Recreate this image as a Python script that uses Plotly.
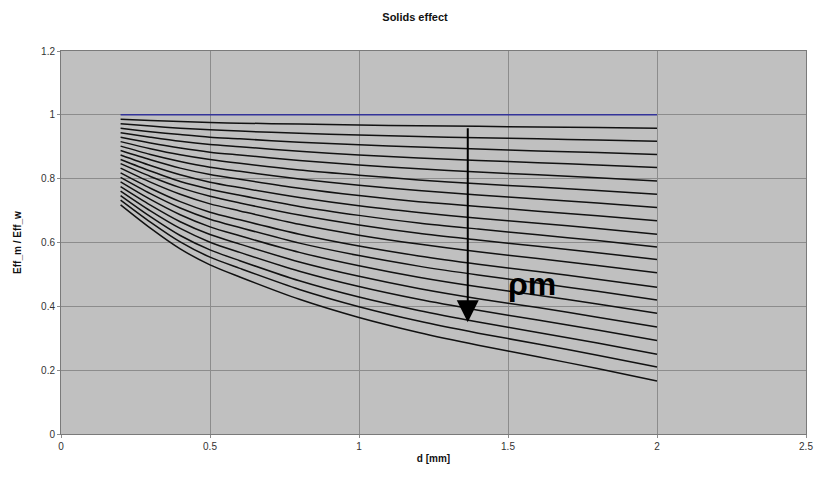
import plotly.graph_objects as go

# particle diameter d [mm] at which each efficiency ratio was evaluated
d_mm = [0.2, 0.3, 0.4, 0.5, 0.6, 0.8, 1.0, 1.2, 1.4, 1.6, 1.8, 2.0]

# clean-water reference (ratio = 1)
water_ratio = [1.0] * len(d_mm)

# Eff_m / Eff_w for increasing mixture density (top to bottom)
ratio_by_density = [
    [0.986, 0.982, 0.979, 0.976, 0.974, 0.971, 0.968, 0.966, 0.964, 0.962, 0.960, 0.958],
    [0.972, 0.965, 0.958, 0.953, 0.949, 0.942, 0.937, 0.932, 0.928, 0.925, 0.921, 0.917],
    [0.958, 0.947, 0.938, 0.930, 0.925, 0.914, 0.906, 0.899, 0.893, 0.887, 0.882, 0.876],
    [0.944, 0.930, 0.917, 0.907, 0.900, 0.886, 0.874, 0.865, 0.857, 0.850, 0.843, 0.835],
    [0.930, 0.912, 0.896, 0.883, 0.874, 0.857, 0.843, 0.831, 0.821, 0.812, 0.803, 0.793],
    [0.916, 0.894, 0.875, 0.860, 0.848, 0.827, 0.811, 0.796, 0.784, 0.774, 0.763, 0.751],
    [0.902, 0.876, 0.854, 0.836, 0.823, 0.799, 0.779, 0.763, 0.749, 0.736, 0.724, 0.710],
    [0.888, 0.859, 0.833, 0.813, 0.798, 0.770, 0.747, 0.728, 0.713, 0.698, 0.684, 0.668],
    [0.874, 0.841, 0.812, 0.789, 0.772, 0.741, 0.715, 0.694, 0.676, 0.660, 0.644, 0.626],
    [0.860, 0.824, 0.791, 0.767, 0.748, 0.713, 0.685, 0.661, 0.642, 0.624, 0.606, 0.586],
    [0.847, 0.807, 0.772, 0.745, 0.724, 0.686, 0.655, 0.629, 0.608, 0.588, 0.568, 0.547],
    [0.833, 0.789, 0.751, 0.721, 0.699, 0.657, 0.623, 0.595, 0.571, 0.550, 0.528, 0.505],
    [0.818, 0.770, 0.728, 0.695, 0.671, 0.626, 0.589, 0.558, 0.532, 0.509, 0.485, 0.460],
    [0.804, 0.753, 0.708, 0.673, 0.647, 0.598, 0.559, 0.526, 0.498, 0.473, 0.447, 0.420],
    [0.790, 0.735, 0.687, 0.649, 0.621, 0.569, 0.527, 0.491, 0.461, 0.435, 0.407, 0.378],
    [0.775, 0.717, 0.665, 0.625, 0.595, 0.539, 0.494, 0.456, 0.424, 0.396, 0.366, 0.335],
    [0.761, 0.699, 0.644, 0.601, 0.569, 0.510, 0.462, 0.422, 0.388, 0.357, 0.326, 0.293],
    [0.747, 0.681, 0.622, 0.577, 0.543, 0.480, 0.429, 0.387, 0.351, 0.318, 0.285, 0.250],
    [0.733, 0.664, 0.602, 0.554, 0.519, 0.453, 0.399, 0.354, 0.316, 0.282, 0.247, 0.210],
    [0.718, 0.645, 0.580, 0.530, 0.492, 0.422, 0.365, 0.318, 0.278, 0.242, 0.205, 0.166],
]

# direction arrow for increasing mixture density
arrow_d = 1.365
arrow_from = 0.963
arrow_to = 0.35
arrow_label = "ρm"
label_d = 1.58
label_ratio = 0.47

FONT = "Arial, Liberation Sans, sans-serif"

fig = go.Figure()

fig.add_trace(go.Scatter(
    x=d_mm, y=water_ratio, mode="lines",
    line=dict(color="#333399", width=1.5),
    hoverinfo="skip", showlegend=False,
))

for series in ratio_by_density:
    fig.add_trace(go.Scatter(
        x=d_mm, y=series, mode="lines",
        line=dict(color="#111111", width=1.5, shape="spline", smoothing=0.8),
        hoverinfo="skip", showlegend=False,
    ))

fig.add_annotation(
    x=arrow_d, y=arrow_to, ax=arrow_d, ay=arrow_from,
    xref="x", yref="y", axref="x", ayref="y",
    text="", showarrow=True,
    arrowhead=2, arrowsize=2.2, arrowwidth=2, arrowcolor="#000000",
)

fig.add_annotation(
    x=label_d, y=label_ratio, xref="x", yref="y",
    text="<b>" + arrow_label + "</b>", showarrow=False,
    font=dict(family=FONT, size=32, color="#000000"),
)

fig.update_layout(
    width=814, height=477,
    margin=dict(l=61, r=8, t=51, b=43, autoexpand=False),
    paper_bgcolor="#ffffff",
    plot_bgcolor="#c0c0c0",
    font=dict(family=FONT, size=10, color="#333333"),
    title=dict(
        text="<b>Solids effect</b>",
        x=415 / 814, xanchor="center",
        y=1 - 17 / 477, yanchor="middle",
        font=dict(family=FONT, size=11, color="#111111"),
    ),
)

fig.update_xaxes(
    range=[0, 2.5], tickvals=[0, 0.5, 1, 1.5, 2, 2.5],
    ticktext=["0", "0.5", "1", "1.5", "2", "2.5"],
    automargin=False,
    showgrid=True, gridcolor="#8c8c8c", gridwidth=1,
    showline=True, linecolor="#7a7a7a", linewidth=1, mirror=True,
    ticks="outside", ticklen=3, tickcolor="#8c8c8c",
    zeroline=False,
    title=dict(text="<b>d [mm]</b>", standoff=3,
               font=dict(family=FONT, size=10, color="#111111")),
)

fig.update_yaxes(
    range=[0, 1.2], tickvals=[0, 0.2, 0.4, 0.6, 0.8, 1.0, 1.2],
    ticktext=["0", "0.2", "0.4", "0.6", "0.8", "1", "1.2"],
    automargin=False,
    showgrid=True, gridcolor="#8c8c8c", gridwidth=1,
    showline=True, linecolor="#7a7a7a", linewidth=1, mirror=True,
    ticks="outside", ticklen=3, tickcolor="#8c8c8c",
    zeroline=False,
    title=dict(text="<b>Eff_m / Eff_w</b>", standoff=17,
               font=dict(family=FONT, size=10, color="#111111")),
)

fig.write_html("out.html")
